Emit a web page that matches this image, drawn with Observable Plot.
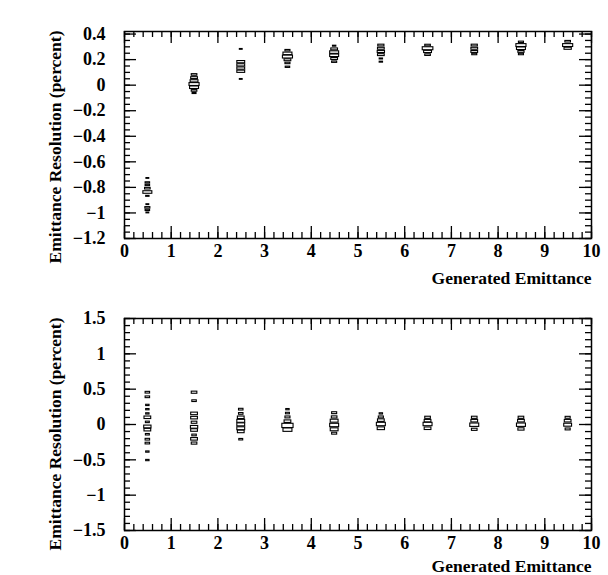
<!DOCTYPE html>
<html><head><meta charset="utf-8">
<script src="https://cdn.jsdelivr.net/npm/d3@7"></script>
<script src="https://cdn.jsdelivr.net/npm/@observablehq/plot@0.6"></script>
<style>
body{margin:0;background:#fff;}
#c svg{display:block;}
#c svg, #c svg text{font-family:"Liberation Serif","Times New Roman",serif !important;font-weight:bold !important;}
</style>
</head><body><div id="c"></div>
<script>
// ---- data ----
const columns = [0.5, 1.5, 2.5, 3.5, 4.5, 5.5, 6.5, 7.5, 8.5, 9.5];

// top panel: y of each box and relative box size (bin content / max)
const topY = [
  [-0.73, -0.765, -0.785, -0.81, -0.84, -0.87, -0.935, -0.96, -0.98, -1.0],
  [0.08, 0.055, 0.03, 0.005, -0.02, -0.045, -0.065],
  [0.28, 0.18, 0.155, 0.13, 0.105, 0.045],
  [0.27, 0.245, 0.22, 0.195, 0.17, 0.14],
  [0.305, 0.28, 0.255, 0.23, 0.205, 0.18],
  [0.31, 0.285, 0.26, 0.235, 0.205, 0.18],
  [0.31, 0.285, 0.26, 0.235],
  [0.31, 0.285, 0.26, 0.24],
  [0.335, 0.31, 0.285, 0.26, 0.24],
  [0.34, 0.31, 0.285]
];
const topSize = [
  [0.25, 0.4, 0.4, 0.5, 0.8, 0.3, 0.25, 0.45, 0.4, 0.25],
  [0.5, 0.6, 0.7, 0.9, 0.8, 0.5, 0.35],
  [0.25, 0.7, 0.7, 0.7, 0.7, 0.25],
  [0.45, 0.8, 0.9, 0.6, 0.45, 0.4],
  [0.3, 0.6, 0.8, 0.8, 0.6, 0.45],
  [0.55, 0.6, 0.65, 0.6, 0.3, 0.3],
  [0.5, 0.95, 0.7, 0.5],
  [0.55, 0.6, 0.6, 0.45],
  [0.45, 0.9, 0.8, 0.55, 0.45],
  [0.5, 0.9, 0.65]
];

// bottom panel
const bottomY = [
  [0.45, 0.385, 0.27, 0.21, 0.15, 0.095, 0.03, -0.035, -0.08, -0.145, -0.215, -0.27, -0.39, -0.51],
  [0.45, 0.33, 0.15, 0.09, 0.025, -0.04, -0.085, -0.155, -0.21, -0.27],
  [0.21, 0.15, 0.095, 0.045, -0.005, -0.06, -0.105, -0.215],
  [0.21, 0.155, 0.1, 0.04, -0.02, -0.08],
  [0.16, 0.1, 0.047, -0.014, -0.075, -0.13],
  [0.15, 0.1, 0.055, 0.0, -0.06],
  [0.095, 0.047, 0.0, -0.06],
  [0.095, 0.047, -0.01, -0.075],
  [0.095, 0.047, -0.01, -0.07],
  [0.095, 0.047, -0.01, -0.07]
];
const bottomSize = [
  [0.4, 0.4, 0.3, 0.3, 0.3, 0.6, 0.35, 0.65, 0.6, 0.35, 0.4, 0.4, 0.3, 0.3],
  [0.5, 0.4, 0.6, 0.6, 0.5, 0.65, 0.6, 0.4, 0.6, 0.5],
  [0.4, 0.4, 0.6, 0.7, 0.7, 0.7, 0.6, 0.35],
  [0.3, 0.35, 0.45, 0.6, 1.0, 0.8],
  [0.45, 0.5, 0.7, 0.8, 0.7, 0.45],
  [0.3, 0.45, 0.6, 0.8, 0.65],
  [0.5, 0.6, 0.8, 0.6],
  [0.5, 0.6, 0.8, 0.5],
  [0.5, 0.6, 0.8, 0.55],
  [0.45, 0.6, 0.7, 0.45]
];

const xTicks = [0, 1, 2, 3, 4, 5, 6, 7, 8, 9, 10];
const topYTicks = [-1.2, -1.0, -0.8, -0.6, -0.4, -0.2, 0, 0.2, 0.4];
const bottomYTicks = [-1.5, -1, -0.5, 0, 0.5, 1, 1.5];
const xLabel = "Generated Emittance";
const yLabel = "Emittance Resolution (percent)";

// ---- drawing ----
const W = 608, ML = 124, MR = 17;
const FONT = "Liberation Serif";
const fmt = d => String(+d.toFixed(4)).replace("-", "\u2212");

function minors(lo, hi, step) {
  const n = Math.round((hi - lo) / step);
  return d3.range(n + 1).map(i => +(lo + i * step).toFixed(6));
}

function panel({ys, sizes, binH, halfW, yDomain, yMajors, yMinorStep, height, mt, mb, xLabelDy}) {
  const boxes = [];
  columns.forEach((c, i) => ys[i].forEach((y, j) => {
    const s = sizes[i][j];
    boxes.push({x1: c - s * halfW, x2: c + s * halfW, y1: y - s * binH / 2, y2: y + s * binH / 2});
  }));
  const FH = height - mt - mb, FW = W - ML - MR;
  const xMin = minors(0, 10, 0.2);
  const yMin = minors(yMajors[0], yMajors[yMajors.length - 1], yMinorStep);
  const tk = {stroke: "#000", strokeWidth: 1.3};
  const tickTxt = {fontFamily: FONT, fontWeight: "bold", fontSize: 18};
  const lblTxt = {fontFamily: FONT, fontWeight: "bold", fontSize: 17.5};
  return Plot.plot({
    width: W, height, marginLeft: ML, marginRight: MR, marginTop: mt, marginBottom: mb,
    style: {fontFamily: FONT, fontWeight: "bold", fontSize: "17px", background: "#fff", color: "#000", overflow: "visible"},
    x: {domain: [0, 10]},
    y: {domain: yDomain},
    marks: [
      Plot.rect(boxes, {x1: "x1", x2: "x2", y1: "y1", y2: "y2", fill: "#fff", stroke: "#000", strokeWidth: 1.1}),
      // inward ticks
      Plot.tickX(xTicks, {x: d => d, insetTop: FH - 12, ...tk}),
      Plot.tickX(xTicks, {x: d => d, insetBottom: FH - 12, ...tk}),
      Plot.tickX(xMin, {x: d => d, insetTop: FH - 6, ...tk}),
      Plot.tickX(xMin, {x: d => d, insetBottom: FH - 6, ...tk}),
      Plot.tickY(yMajors, {y: d => d, insetRight: FW - 12, ...tk}),
      Plot.tickY(yMajors, {y: d => d, insetLeft: FW - 12, ...tk}),
      Plot.tickY(yMin, {y: d => d, insetRight: FW - 6, ...tk}),
      Plot.tickY(yMin, {y: d => d, insetLeft: FW - 6, ...tk}),
      Plot.frame({stroke: "#000", strokeWidth: 1.5}),
      Plot.axisX(xTicks, {tickSize: 0, tickPadding: 6, label: null, tickFormat: fmt, ...tickTxt}),
      Plot.axisY(yMajors, {tickSize: 0, tickPadding: 19, label: null, tickFormat: fmt, ...tickTxt}),
      Plot.text([xLabel], {frameAnchor: "bottom-right", textAnchor: "end", dy: xLabelDy, ...lblTxt}),
      Plot.text([yLabel], {frameAnchor: "top-left", rotate: -90, textAnchor: "end", dx: -76, dy: -1, ...lblTxt})
    ]
  });
}

const c = document.getElementById("c");
c.appendChild(panel({ys: topY, sizes: topSize, binH: 0.025, halfW: 0.12, yDomain: [-1.2, 0.42],
  yMajors: topYTicks, yMinorStep: 0.05, height: 290, mt: 31, mb: 52, xLabelDy: 45}));
c.appendChild(panel({ys: bottomY, sizes: bottomSize, binH: 0.06, halfW: 0.12, yDomain: [-1.5, 1.5],
  yMajors: bottomYTicks, yMinorStep: 0.1, height: 285, mt: 28, mb: 45, xLabelDy: 41}));
</script>
</body></html>
